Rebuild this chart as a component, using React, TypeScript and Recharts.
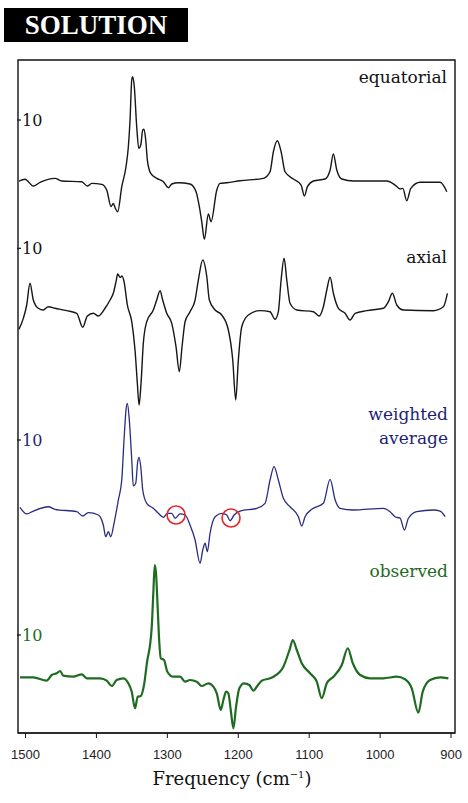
import React from 'react';
import { LineChart, Line, XAxis, YAxis, ReferenceArea, ReferenceDot } from 'recharts';

// [frequency cm-1, signal], left to right
const EQUATORIAL: [number, number][] = [
  [1509.2, 0], [1500.7, 0.28], [1489, -0.82], [1479.5, -0.21], [1458.4, 0.44], [1449, 0],
  [1420.7, -0.11], [1412.8, -0.82], [1406.6, -0.38], [1392.5, -0.54], [1385.5, -1.48],
  [1379.4, -4.2], [1376.2, -3.66], [1373.3, -4.48], [1370, -5.03], [1364.3, -0.93],
  [1358.3, 2.34], [1355, 5.62], [1352.6, 10], [1350.2, 16.56], [1348.8, 17.1], [1346.6, 15.46],
  [1343.2, 8.9], [1340.3, 5.36], [1337.5, 5.9], [1334.7, 8.36], [1332.9, 8.48], [1330.5, 6.72],
  [1328.2, 3.44], [1323.4, 1.26], [1315, 0.44], [1305.6, -0.11], [1298.6, -1.1], [1293.8, -0.49],
  [1284.5, -0.28], [1268, -0.49], [1259.5, -1.75], [1254.9, -4.21], [1251.5, -6.7], [1247.8, -9.56],
  [1242.2, -5.41], [1238.4, -6.67], [1230.3, -1.48], [1225.7, -0.38], [1216.2, -0.28],
  [1197.5, 0.05], [1164.6, 0.44], [1155.2, 1.52], [1150.5, 4.8], [1144.9, 6.6], [1139.6, 4.8],
  [1134, 1.52], [1122.3, 0.33], [1111.4, -0.66], [1106.8, -2.46], [1102.5, -0.93], [1094.1, 0],
  [1077.6, 0.33], [1070.5, 1.8], [1065.9, 4.43], [1061.1, 1.8], [1054, 0.33], [1037.7, 0],
  [990.6, 0], [978.9, -0.66], [971.8, -1.31], [968, -1.2], [962.4, -3.23], [956.7, -1.2],
  [943.6, -0.21], [915.4, -0.21], [905.9, -1.75],
];

const AXIAL: [number, number][] = [
  [1509.2, -3.13], [1503.1, -1.35], [1498.3, 0.81], [1493.7, 4.33], [1489, 1.62], [1482, 0.28],
  [1474.9, 0], [1467.8, 0.53], [1458.4, 0.28], [1441.9, -0.11], [1427.8, -0.53], [1419.3, -2.8],
  [1412.8, -0.97], [1404.4, -0.53], [1397.3, -0.97], [1387.9, 0.28], [1380.8, 1.62], [1376.2, 2.71],
  [1372.4, 4.59], [1370, 5.83], [1366.7, 5.3], [1363.9, 5.51], [1361.1, 4.59], [1356.4, 0.81],
  [1350.2, -1.9], [1345.6, -6.48], [1342.3, -11.88], [1339.9, -15.4], [1337.1, -11.88],
  [1333.9, -5.4], [1329.1, -1.9], [1319.8, 0], [1315, 1.62], [1310.3, 3.13], [1306.6, 1.62],
  [1300.9, -0.53], [1293.8, -2.16], [1287.8, -5.95], [1283.1, -10], [1279.3, -5.95], [1275, -1.9],
  [1268, -0.28], [1260.9, 1.62], [1256.3, 4.86], [1250.1, 8.1], [1244.4, 5.4], [1240.8, 1.62],
  [1232.7, 0], [1223.3, -0.81], [1214, -3.24], [1207.8, -8.1], [1203.6, -14.59], [1199.9, -8.1],
  [1195.1, -2.71], [1185.8, -0.81], [1169.3, -0.1], [1155.2, -0.28], [1148.1, -1.51],
  [1143.5, -0.28], [1139.6, 4.86], [1135.4, 8.38], [1131.6, 4.86], [1127, 1.09], [1117.5, 0],
  [1094.1, -0.28], [1086.1, -0.97], [1080, 0.53], [1075.2, 3.24], [1070.5, 5.3], [1065.9, 2.71],
  [1058.8, 0.28], [1049.4, -0.53], [1042.4, -1.62], [1035.3, -0.53], [1018.8, -0.11],
  [995.4, 0.28], [988.3, 1.35], [982.7, 2.71], [976.5, 0.81], [967.2, 0], [924.9, -0.11],
  [910.8, 0.53], [905.1, 2.71],
];

const WEIGHTED: [number, number][] = [
  [1507.8, 0.15], [1498.3, -0.83], [1489, -0.4], [1467.8, 0.23], [1458.4, -0.15], [1427.8, -0.5],
  [1419.3, -1.13], [1411.4, -0.64], [1397.3, -0.98], [1394.9, -1.23], [1390.3, -2.45],
  [1386.9, -4.16], [1383.2, -3.43], [1379.8, -4.16], [1375.2, -2.2], [1369.1, 1.22], [1364.3, 4.14],
  [1361.1, 10], [1358.3, 14.39], [1356.4, 15.37], [1353.6, 12.9], [1350.2, 7.07], [1348, 3.27],
  [1344.6, 3.66], [1341.8, 6.82], [1340, 7.47], [1337.5, 6.09], [1334.7, 2.68], [1329.1, 0.73],
  [1319.8, 0], [1312.7, -0.73], [1305.6, -1.32], [1300, -0.73], [1293.8, -0.73], [1289.1, -1.46],
  [1282.1, -0.83], [1275, -0.98], [1268, -2.45], [1260.9, -4.64], [1253.9, -8.05], [1250.1, -6.11],
  [1246.8, -5.12], [1243.6, -6.35], [1239.8, -3.66], [1232.7, -1.23], [1223.3, -0.73],
  [1216.2, -0.98], [1211.6, -1.82], [1205.9, -0.98], [1197.5, -0.4], [1173.9, 0], [1162.2, 0.73],
  [1155.2, 4.14], [1149.5, 6.09], [1143.5, 4.14], [1136.4, 1.46], [1127, 0.23], [1115.2, -1.23],
  [1110.5, -2.59], [1105.8, -1.23], [1096.3, -0.15], [1080, 0.73], [1070.5, 4.25], [1063.4, 1.22],
  [1056.4, 0], [1037.7, -0.25], [995.4, 0], [986, -0.5], [978.9, -1.23], [971.8, -1.46],
  [965.7, -3.18], [960.1, -1.46], [948.3, -0.5], [924.9, -0.25], [915.4, -0.4], [908.3, -1.23],
];

const OBSERVED: [number, number][] = [
  [1507.8, 0], [1489, 0], [1470.1, -0.8], [1463, 0.54], [1456, 0.95], [1451.3, 1.49],
  [1446.7, 0.38], [1432.6, 0.14], [1420.7, 0.71], [1413.7, -0.24], [1394.9, -0.24], [1385.5, -0.8],
  [1378.4, -2.06], [1371.4, -0.64], [1362.1, -0.24], [1355, -1.42], [1350.2, -3.4], [1345.6, -7.33],
  [1341.8, -4.59], [1337.5, -4.42], [1332.9, -1.82], [1328.2, 4.09], [1324.4, 7.64], [1322, 11.96],
  [1319.8, 19.86], [1317.8, 26.5], [1316, 24.6], [1313.5, 15.9], [1311.3, 8.04], [1309.3, 4.49],
  [1304.7, 4.09], [1300, 1.32], [1291.6, 0.14], [1282.1, 0.14], [1275, -1.04], [1268, -0.64],
  [1258.6, -1.04], [1251.5, -2.06], [1242.2, -1.42], [1235.1, -2.22], [1230.3, -3.78],
  [1224.7, -7.73], [1221, -5.37], [1217.2, -3.4], [1214, -3.78], [1210.6, -7.73], [1206.9, -12.06],
  [1203.1, -6.95], [1198.5, -2.6], [1191.8, -1.42], [1184.4, -1.82], [1178.7, -3.17],
  [1173.9, -2.22], [1166.9, -0.8], [1155.2, -0.24], [1150.5, 0.14], [1136.4, 2.51], [1127, 6.86],
  [1123.1, 8.82], [1117.5, 6.45], [1110.5, 3.31], [1098.8, 0.95], [1089.3, -1.04], [1082.3, -4.96],
  [1075.2, -1.42], [1065.9, 0.14], [1054, 2.91], [1045.6, 6.86], [1038.5, 3.31], [1028.2, 0.54],
  [1014.2, -0.24], [995.4, -0.24], [976.5, 0.14], [964.8, -0.47], [955.4, -2.6], [946.1, -8.37],
  [939.9, -3.4], [929.6, -0.64], [915.4, 0], [903.7, -0.24],
];

// the two bands ringed in red on the weighted average
const CIRCLED: [number, number][] = [[1287.7, -0.98], [1210.2, -1.42]];

const FREQ_TICKS = [1500, 1400, 1300, 1200, 1100, 1000, 900];
const SCALE_MARK = 10;
const X_MIN = 894.4;
const X_MAX = 1510.6;

const rows = (pts: [number, number][]) => pts.map(([f, v]) => ({ f, v }));

const SERIF = '"DejaVu Serif", serif';
const NAVY = '#1f1f72';
const GREEN = '#1d6a1f';

// short inward tick on the left frame with the "10" scale label beside it
const scaleMark = (color: string) => (props: any) => (
  <g>
    <line x1={props.cx - 1} x2={props.cx + 3} y1={props.cy} y2={props.cy} stroke="#111" strokeWidth={1.2} />
    <text x={props.cx + 4} y={props.cy} dy="0.36em" fontSize={16} fontFamily={SERIF} fill={color}>
      {SCALE_MARK}
    </text>
  </g>
);

const axes = [
  { id: 'eq', domain: [-90.49, 19.84], color: '#111' },
  { id: 'ax', domain: [-68.56, 40.52], color: '#111' },
  { id: 'wa', domain: [-32.9, 65.64], color: NAVY },
  { id: 'ob', domain: [-13.17, 145.93], color: GREEN },
];

export default function App() {
  return (
    <div style={{ position: 'absolute', left: 0, top: 0, width: 468, height: 803, background: '#fff' }}>
      <div
        style={{
          position: 'absolute', left: 4, top: 8, width: 184, height: 34, background: '#000',
          color: '#fff', fontFamily: '"Liberation Serif", serif', fontWeight: 700, fontSize: 27,
          lineHeight: '34px', textAlign: 'center',
        }}
      >
        SOLUTION
      </div>
      <LineChart width={468} height={803} margin={{ top: 60, right: 13, left: 18, bottom: 10 }}>
        <XAxis
          dataKey="f"
          type="number"
          domain={[X_MIN, X_MAX]}
          reversed
          allowDataOverflow
          ticks={FREQ_TICKS}
          interval={0}
          height={60}
          stroke="#111"
          tickSize={5}
          tickMargin={12}
          tick={{ fontSize: 13, fill: '#222', fontFamily: '"Liberation Sans", Arial, sans-serif' }}
        />
        {axes.map((a) => (
          <YAxis key={a.id} yAxisId={a.id} type="number" domain={a.domain} hide allowDataOverflow />
        ))}

        <ReferenceArea yAxisId="eq" x1={X_MAX} x2={X_MIN} y1={-90.49} y2={19.84} fill="none" stroke="#111" strokeWidth={1.4} />

        <Line yAxisId="eq" data={rows(EQUATORIAL)} dataKey="v" type="monotone" stroke="#161616" strokeWidth={1.4} dot={false} isAnimationActive={false} />
        <Line yAxisId="ax" data={rows(AXIAL)} dataKey="v" type="monotone" stroke="#161616" strokeWidth={1.4} dot={false} isAnimationActive={false} />
        <Line yAxisId="wa" data={rows(WEIGHTED)} dataKey="v" type="monotone" stroke="#2a2c80" strokeWidth={1.3} dot={false} isAnimationActive={false} />
        <Line yAxisId="ob" data={rows(OBSERVED)} dataKey="v" type="monotone" stroke="#1f6b21" strokeWidth={2.2} dot={false} isAnimationActive={false} />

        {axes.map((a) => (
          <ReferenceDot key={a.id} yAxisId={a.id} x={X_MAX} y={SCALE_MARK} ifOverflow="visible" shape={scaleMark(a.color)} />
        ))}

        {CIRCLED.map(([f, v]) => (
          <ReferenceDot key={f} yAxisId="wa" x={f} y={v} r={9} fill="none" stroke="#e3262e" strokeWidth={1.6} />
        ))}
      </LineChart>
      <svg width={468} height={803} style={{ position: 'absolute', left: 0, top: 0, pointerEvents: 'none' }}>
        <g fontFamily={SERIF} fontSize={17} textAnchor="end">
          <text x={447} y={83} fill="#111">equatorial</text>
          <text x={447} y={263} fill="#111">axial</text>
          <text x={448} y={420} fill={NAVY}>weighted</text>
          <text x={448} y={444} fill={NAVY}>average</text>
          <text x={448} y={577} fill={GREEN}>observed</text>
        </g>
        <text x={232} y={785} textAnchor="middle" fontFamily={SERIF} fontSize={18} fill="#111">
          Frequency (cm<tspan dy={-7} fontSize={10}>−1</tspan><tspan dy={7}>)</tspan>
        </text>
      </svg>
    </div>
  );
}
